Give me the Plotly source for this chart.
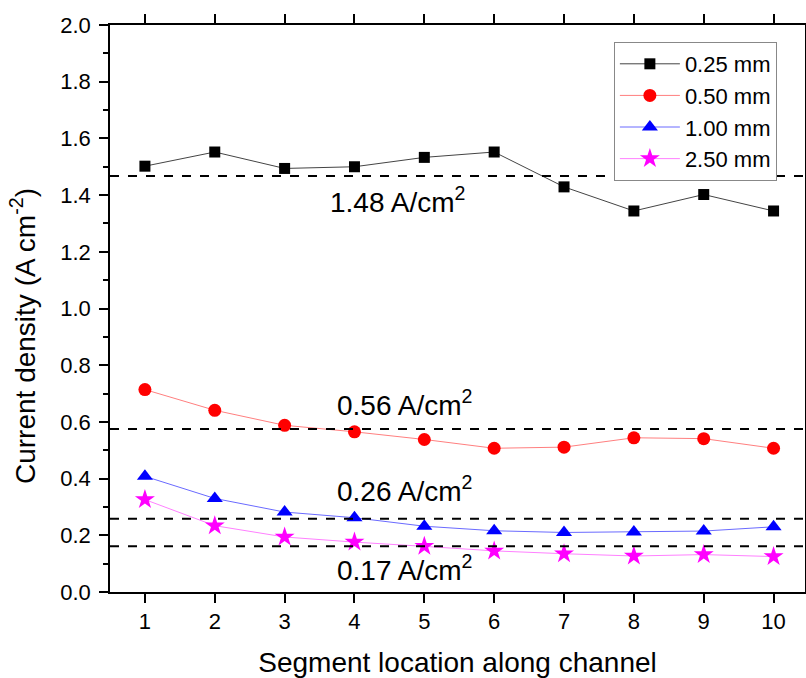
import plotly.graph_objects as go

segments = [1, 2, 3, 4, 5, 6, 7, 8, 9, 10]
s025 = [1.502, 1.552, 1.494, 1.500, 1.533, 1.552, 1.429, 1.344, 1.402, 1.344]
s050 = [0.714, 0.641, 0.588, 0.565, 0.538, 0.507, 0.511, 0.544, 0.541, 0.507]
s100 = [0.408, 0.330, 0.282, 0.262, 0.232, 0.216, 0.210, 0.212, 0.215, 0.230]
s250 = [0.326, 0.234, 0.194, 0.176, 0.161, 0.145, 0.135, 0.127, 0.132, 0.125]

avg_levels = [1.467, 0.575, 0.258, 0.161]
avg_labels = ["1.48 A/cm<sup>2</sup>", "0.56 A/cm<sup>2</sup>",
              "0.26 A/cm<sup>2</sup>", "0.17 A/cm<sup>2</sup>"]
label_y = [1.383, 0.667, 0.363, 0.083]
label_x = [4.62, 4.72, 4.72, 4.72]

series = [
    ("0.25 mm", s025, "black", "#444444", "square", 11),
    ("0.50 mm", s050, "red", "#ff7f7f", "circle", 13),
    ("1.00 mm", s100, "blue", "#6a6aff", "triangle-up", 14),
    ("2.50 mm", s250, "magenta", "#ff80ff", "star", 15),
]

FONT = "Liberation Sans, Arial, sans-serif"
fig = go.Figure()
for name, vals, mc, lc, sym, sz in series:
    fig.add_trace(go.Scatter(
        x=segments, y=vals, name=name, mode="lines+markers",
        line=dict(color=lc, width=1),
        marker=dict(color=mc, symbol=sym, size=sz, line=dict(width=0)),
    ))

for lv in avg_levels:
    fig.add_shape(type="line", xref="paper", x0=0, x1=1, y0=lv, y1=lv,
                  line=dict(color="black", width=2, dash="dash"))

for txt, xx, yy in zip(avg_labels, label_x, label_y):
    fig.add_annotation(x=xx, y=yy, text=txt, showarrow=False,
                       font=dict(family=FONT, size=28, color="black"))

# y-axis title as a rotated annotation (positioned like the reference)
fig.add_annotation(xref="paper", yref="paper", x=(23 - 110) / 695, y=(592 - 336) / 567,
                   text="Current density (A cm<sup>-2</sup>)", textangle=-90,
                   showarrow=False, xanchor="center", yanchor="middle",
                   font=dict(family=FONT, size=28, color="black"))

axis_common = dict(showline=True, linecolor="black", linewidth=1.5, mirror="ticks",
                   ticks="outside", tickcolor="black", tickwidth=1.5, ticklen=9,
                   showgrid=False, zeroline=False, automargin=False,
                   tickfont=dict(family=FONT, size=22, color="black"))

fig.update_layout(
    width=806, height=678,
    margin=dict(l=110, r=1, t=25, b=86),
    paper_bgcolor="white", plot_bgcolor="white",
    font=dict(family=FONT, color="black"),
    xaxis=dict(range=[0.5, 10.45], tickmode="array", tickvals=segments,
               title=dict(text="Segment location along channel",
                          font=dict(family=FONT, size=28), standoff=20),
               **axis_common),
    yaxis=dict(range=[0, 2.0], tickmode="linear", tick0=0, dtick=0.2, tickformat=".1f",
               ticklabelstandoff=4,
               minor=dict(ticks="outside", ticklen=5, dtick=0.1, tickcolor="black", tickwidth=1.5),
               **axis_common),
    legend=dict(x=0.725, y=0.97, xanchor="left", yanchor="top",
                bgcolor="white", bordercolor="#888888", borderwidth=1,
                font=dict(family=FONT, size=22, color="black"),
                tracegroupgap=0, itemwidth=60),
    showlegend=True,
)

fig.write_html("out.html")
